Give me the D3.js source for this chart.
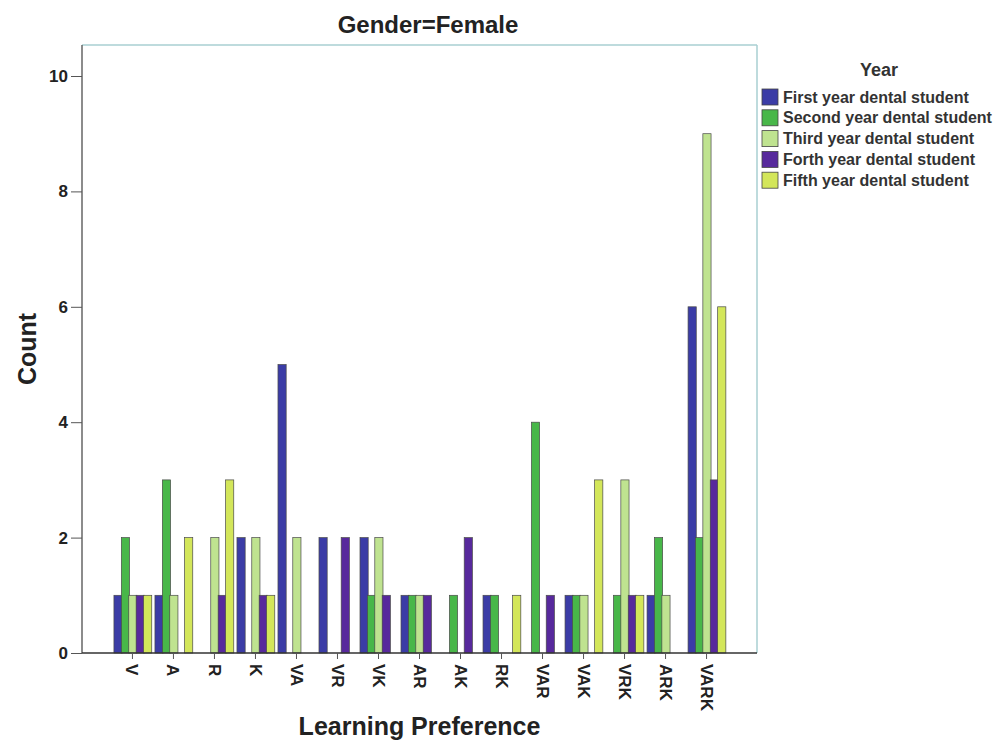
<!DOCTYPE html>
<html>
<head>
<meta charset="utf-8">
<script src="https://cdn.jsdelivr.net/npm/d3@7"></script>
<style>
  html, body { margin: 0; padding: 0; background: #ffffff; }
  svg { display: block; font-family: "Liberation Sans", Arial, sans-serif; }
</style>
</head>
<body>
<svg id="chart" width="993" height="740"></svg>
<script>
const categories = ["V","A","R","K","VA","VR","VK","AR","AK","RK","VAR","VAK","VRK","ARK","VARK"];
const seriesNames = ["First year dental student","Second year dental student","Third year dental student","Forth year dental student","Fifth year dental student"];
const firstYear  = [1,1,0,2,5,2,2,1,0,1,0,1,0,1,6];
const secondYear = [2,3,0,0,0,0,1,1,1,1,4,1,1,2,2];
const thirdYear  = [1,1,2,2,2,0,2,1,0,0,0,1,3,1,9];
const forthYear  = [1,0,1,1,0,2,1,1,2,0,1,0,1,0,3];
const fifthYear  = [1,2,3,1,0,0,0,0,0,1,0,3,1,0,6];
const yTicks = [0,2,4,6,8,10];
const colors = ["#3b3ca6","#48b749","#bfe390","#57299c","#d3e65a"];

const seriesValues = [firstYear, secondYear, thirdYear, forthYear, fifthYear];

const svg = d3.select("#chart");
const pLeft = 82, pRight = 757, pTop = 45, pBottom = 653;

const x0 = d3.scaleBand().domain(categories).range([pLeft, pRight]).paddingInner(0).paddingOuter(0.73);
const x1 = d3.scaleBand().domain(d3.range(seriesNames.length)).range([-18.5, 18.5]).padding(0);
const y = d3.scaleLinear().domain([0, 10]).range([pBottom, 76]);

// frame (top / right light border)
svg.append("line").attr("x1", pLeft).attr("x2", pRight).attr("y1", pTop).attr("y2", pTop)
  .attr("stroke", "#a9cfd2").attr("stroke-width", 1.5);
svg.append("line").attr("x1", pRight).attr("x2", pRight).attr("y1", pTop).attr("y2", pBottom)
  .attr("stroke", "#a9cfd2").attr("stroke-width", 1.5);

// bars
const barData = [];
categories.forEach((c, i) => {
  seriesValues.forEach((vals, s) => {
    if (vals[i] > 0) barData.push({ cat: c, s: s, v: vals[i] });
  });
});
svg.append("g").selectAll("rect").data(barData).join("rect")
  .attr("x", d => x0(d.cat) + x0.bandwidth() / 2 + x1(d.s))
  .attr("width", x1.bandwidth() + 0.8)
  .attr("y", d => y(d.v))
  .attr("height", d => y(0) - y(d.v))
  .attr("fill", d => colors[d.s])
  .attr("stroke", "#4a4a4a")
  .attr("stroke-width", 0.7);

// y axis
const yAxis = svg.append("g").attr("transform", `translate(${pLeft},0)`)
  .call(d3.axisLeft(y).tickValues(yTicks).tickSize(11).tickPadding(3).tickFormat(d3.format("d")));
yAxis.select(".domain").attr("stroke", "#666").attr("stroke-width", 1.5).attr("d", `M0,${pTop}V${pBottom}`);
yAxis.selectAll(".tick line").attr("stroke", "#555");
yAxis.selectAll(".tick text").attr("font-size", 17).attr("font-weight", "bold").attr("fill", "#222")
  .attr("font-family", "Liberation Sans, Arial, sans-serif");

// x axis
const xAxis = svg.append("g").attr("transform", `translate(0,${pBottom})`)
  .call(d3.axisBottom(x0).tickSize(6).tickPadding(3));
xAxis.select(".domain").attr("stroke", "#333").attr("stroke-width", 1.5).attr("d", `M${pLeft},0H${pRight}`);
xAxis.selectAll(".tick line").attr("stroke", "#555");
xAxis.selectAll(".tick text")
  .attr("font-size", 17).attr("font-weight", "bold").attr("fill", "#222")
  .attr("font-family", "Liberation Sans, Arial, sans-serif")
  .attr("transform", "rotate(90)")
  .attr("text-anchor", "start")
  .attr("dy", "0.35em")
  .attr("x", 11).attr("y", 0);

// titles
svg.append("text").attr("x", 428).attr("y", 33).attr("text-anchor", "middle")
  .attr("font-size", 24).attr("font-weight", "bold").attr("fill", "#222").text("Gender=Female");
svg.append("text").attr("transform", `translate(36,${(pTop + pBottom) / 2}) rotate(-90)`).attr("text-anchor", "middle")
  .attr("font-size", 25).attr("font-weight", "bold").attr("fill", "#222").text("Count");
svg.append("text").attr("x", (pLeft + pRight) / 2).attr("y", 735).attr("text-anchor", "middle")
  .attr("font-size", 25).attr("font-weight", "bold").attr("fill", "#222").text("Learning Preference");

// legend
svg.append("text").attr("x", 879).attr("y", 76).attr("text-anchor", "middle")
  .attr("font-size", 18).attr("font-weight", "bold").attr("fill", "#333").text("Year");
const lg = svg.append("g").selectAll("g").data(seriesNames).join("g")
  .attr("transform", (d, i) => `translate(762,${89 + i * 20.8})`);
lg.append("rect").attr("width", 16).attr("height", 16)
  .attr("fill", (d, i) => colors[i]).attr("stroke", "#444").attr("stroke-width", 0.8);
lg.append("text").attr("x", 21).attr("y", 13.5).attr("font-size", 16).attr("font-weight", "bold")
  .attr("fill", "#333").text(d => d);
</script>
</body>
</html>
